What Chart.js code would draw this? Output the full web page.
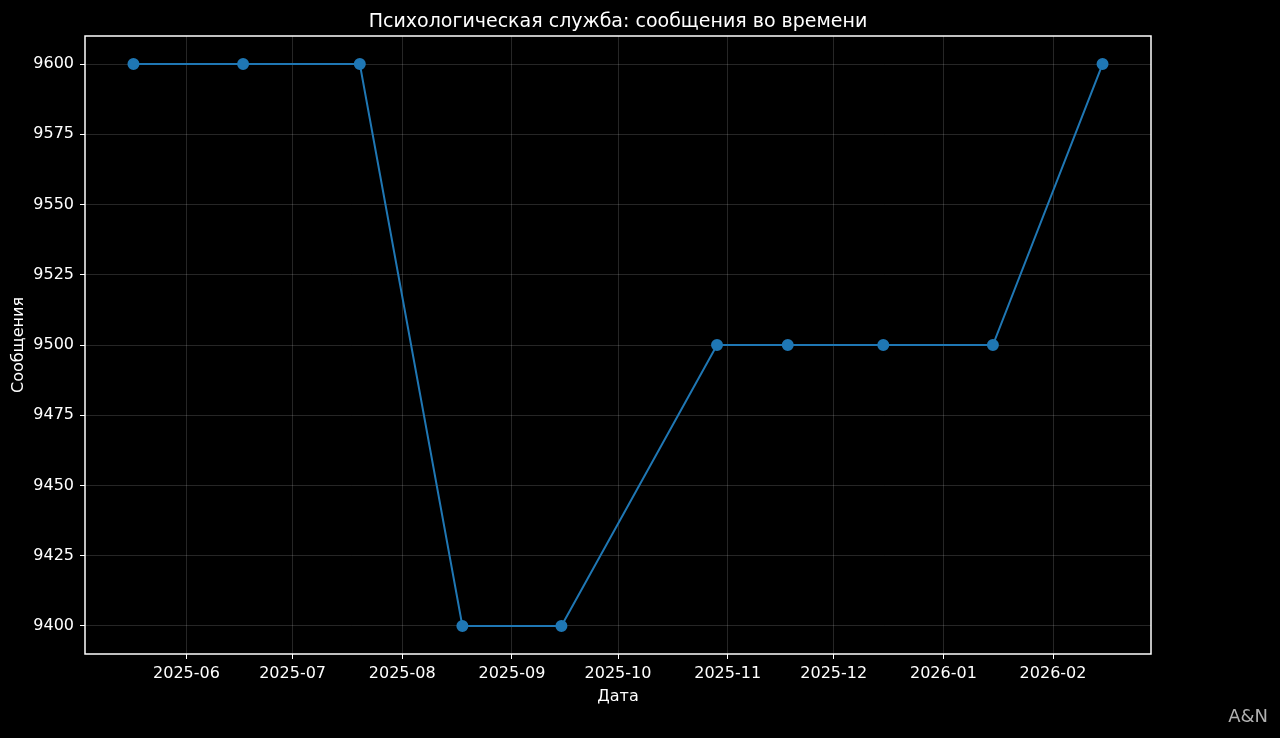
<!DOCTYPE html>
<html>
<head>
<meta charset="utf-8">
<script src="https://cdn.jsdelivr.net/npm/chart.js@4.4.1/dist/chart.umd.min.js"></script>
<style>
  html, body { margin: 0; padding: 0; background: #000; }
  #wrap { width: 1280px; height: 738px; }
</style>
</head>
<body>
<div id="wrap"><canvas id="chart" width="1280" height="738"></canvas></div>
<script>
// data
const dates = ['2025-05-17', '2025-06-17', '2025-07-20', '2025-08-18', '2025-09-15',
               '2025-10-29', '2025-11-18', '2025-12-15', '2026-01-15', '2026-02-15'];
const messages = [9600, 9600, 9600, 9400, 9400, 9500, 9500, 9500, 9500, 9600];
const monthTicks = ['2025-06-01', '2025-07-01', '2025-08-01', '2025-09-01', '2025-10-01',
                    '2025-11-01', '2025-12-01', '2026-01-01', '2026-02-01'];
const yTicks = [9400, 9425, 9450, 9475, 9500, 9525, 9550, 9575, 9600];

const titleText = 'Психологическая служба: сообщения во времени';
const xLabel = 'Дата';
const yLabel = 'Сообщения';
const FONT = '"DejaVu Sans", sans-serif';

const points = dates.map((d, i) => ({ x: Date.parse(d), y: messages[i] }));
const t0 = points[0].x, t1 = points[points.length - 1].x;
const pad = (t1 - t0) * 0.05;

// title, axis labels, frame and watermark
const decor = {
    id: 'decor',
    afterDraw(chart) {
        const ctx = chart.ctx;
        const a = chart.chartArea;
        ctx.save();
        ctx.strokeStyle = '#ffffff';
        ctx.lineWidth = 1.5;
        ctx.strokeRect(a.left, a.top, a.right - a.left, a.bottom - a.top);

        ctx.fillStyle = '#ffffff';
        ctx.textAlign = 'center';
        ctx.textBaseline = 'middle';
        ctx.font = '19px ' + FONT;
        ctx.fillText(titleText, (a.left + a.right) / 2, 22);

        ctx.font = '16px ' + FONT;
        ctx.fillText(xLabel, (a.left + a.right) / 2, 697);

        ctx.save();
        ctx.translate(19, (a.top + a.bottom) / 2);
        ctx.rotate(-Math.PI / 2);
        ctx.fillText(yLabel, 0, 0);
        ctx.restore();

        ctx.fillStyle = '#b0b0b0';
        ctx.textAlign = 'right';
        ctx.font = '18px ' + FONT;
        ctx.fillText('A&N', 1268, 717);
        ctx.restore();
    }
};

const ctx = document.getElementById('chart').getContext('2d');
new Chart(ctx, {
    type: 'line',
    data: {
        datasets: [{
            label: yLabel,
            data: points,
            borderColor: '#1f77b4',
            backgroundColor: '#1f77b4',
            borderWidth: 2,
            pointRadius: 5,
            pointHoverRadius: 5,
            tension: 0
        }]
    },
    options: {
        responsive: false,
        animation: false,
        layout: { padding: { top: 36, right: 129, left: 0, bottom: 0 } },
        plugins: {
            legend: { display: false },
            title: { display: false },
            tooltip: { enabled: false }
        },
        scales: {
            x: {
                type: 'linear',
                min: t0 - pad,
                max: t1 + pad,
                afterBuildTicks: axis => { axis.ticks = monthTicks.map(m => ({ value: Date.parse(m) })); },
                afterFit: axis => { axis.height = 84; },
                ticks: {
                    color: '#ffffff',
                    font: { family: FONT, size: 16 },
                    padding: 5,
                    maxRotation: 0,
                    autoSkip: false,
                    callback: v => new Date(v).toISOString().slice(0, 7)
                },
                grid: { color: 'rgba(255,255,255,0.15)', tickColor: '#ffffff', tickLength: 5, lineWidth: 1 },
                border: { display: false }
            },
            y: {
                min: 9390,
                max: 9610,
                afterBuildTicks: axis => { axis.ticks = yTicks.map(v => ({ value: v })); },
                afterFit: axis => { axis.width = 85; },
                ticks: {
                    color: '#ffffff',
                    font: { family: FONT, size: 16 },
                    padding: 6,
                    callback: v => String(v)
                },
                grid: { color: 'rgba(255,255,255,0.15)', tickColor: '#ffffff', tickLength: 5, lineWidth: 1 },
                border: { display: false }
            }
        }
    },
    plugins: [decor]
});
</script>
</body>
</html>
